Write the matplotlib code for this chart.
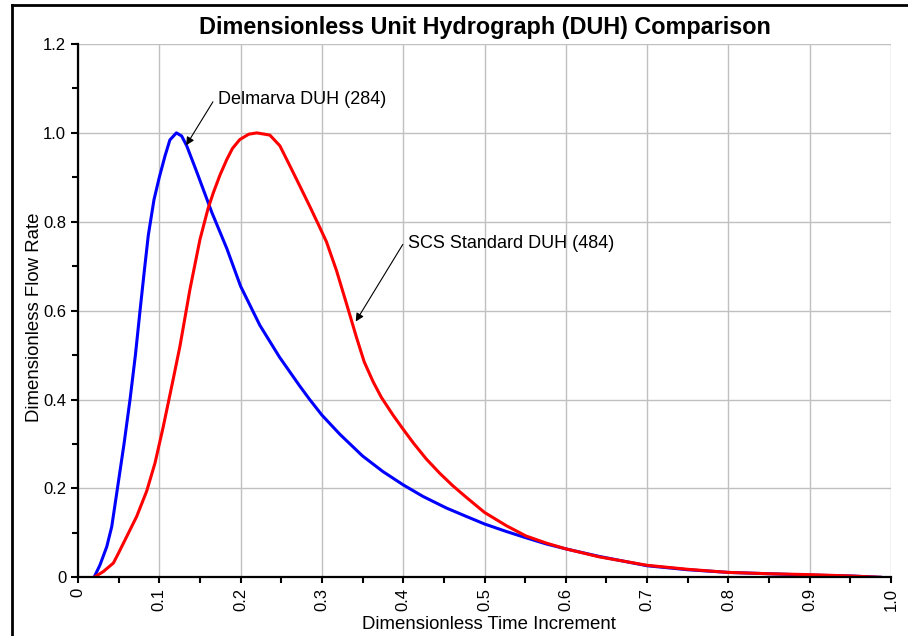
import matplotlib
matplotlib.use('Agg')
import matplotlib.pyplot as plt
from matplotlib.lines import Line2D
from matplotlib.ticker import MultipleLocator, FuncFormatter

plt.rcParams['font.family'] = ['Liberation Sans', 'DejaVu Sans']

# ---- Delmarva DUH (284) ----
delmarva_t = [0.0198, 0.0271, 0.0354, 0.0415, 0.0485, 0.0566, 0.064, 0.0706, 0.0763, 0.0816,
              0.0865, 0.0935, 0.1, 0.107, 0.113, 0.121, 0.1275, 0.1337, 0.1459, 0.1644,
              0.183, 0.2, 0.2237, 0.248, 0.2729, 0.285, 0.3, 0.322, 0.35, 0.375,
              0.4, 0.4243, 0.453, 0.4776, 0.5, 0.527, 0.551, 0.576, 0.6, 0.641,
              0.7, 0.75, 0.8, 0.85, 0.9, 0.95, 0.987]
delmarva_q = [0.0, 0.028, 0.069, 0.114, 0.2, 0.3, 0.4, 0.5, 0.6, 0.69,
              0.77, 0.85, 0.90, 0.948, 0.984, 1.0, 0.993, 0.971, 0.913, 0.822,
              0.74, 0.655, 0.567, 0.495, 0.43, 0.4, 0.365, 0.322, 0.273, 0.238,
              0.208, 0.182, 0.156, 0.137, 0.12, 0.103, 0.089, 0.075, 0.064, 0.047,
              0.026, 0.017, 0.011, 0.008, 0.005, 0.003, 0.0]

# ---- SCS Standard DUH (484) ----
scs_t = [0.0198, 0.0312, 0.0435, 0.0497, 0.0599, 0.0722, 0.0845, 0.0947, 0.105, 0.117,
         0.1254, 0.1377, 0.150, 0.16, 0.1664, 0.1746, 0.183, 0.19, 0.199, 0.21,
         0.22, 0.236, 0.2483, 0.2606, 0.273, 0.285, 0.2954, 0.3056, 0.318, 0.332,
         0.3425, 0.352, 0.363, 0.3731, 0.3875, 0.4, 0.4126, 0.4285, 0.445, 0.461,
         0.4776, 0.5, 0.527, 0.551, 0.576, 0.6, 0.641, 0.7, 0.75, 0.8,
         0.85, 0.9, 0.95, 0.987]
scs_q = [0.0, 0.013, 0.032, 0.054, 0.0916, 0.137, 0.194, 0.257, 0.34, 0.445,
         0.52, 0.648, 0.76, 0.83, 0.865, 0.905, 0.94, 0.965, 0.985, 0.997,
         1.0, 0.995, 0.971, 0.926, 0.88, 0.835, 0.795, 0.755, 0.69, 0.605,
         0.54, 0.485, 0.44, 0.405, 0.365, 0.333, 0.302, 0.266, 0.234, 0.206,
         0.18, 0.146, 0.116, 0.093, 0.077, 0.064, 0.046, 0.027, 0.018, 0.011,
         0.008, 0.006, 0.003, 0.0]

W, H = 908, 636
fig = plt.figure(figsize=(W / 100, H / 100), dpi=100)
ax = fig.add_axes([78 / W, (H - 577.3) / H, (891 - 78) / W, (577.3 - 44) / H])

ax.plot(delmarva_t, delmarva_q, color='#0000ff', lw=2.2, zorder=3)
ax.plot(scs_t, scs_q, color='#ff0000', lw=2.2, zorder=4)

ax.set_xlim(0, 1.0)
ax.set_ylim(0, 1.2)
ax.xaxis.set_major_locator(MultipleLocator(0.1))
ax.xaxis.set_minor_locator(MultipleLocator(0.05))
ax.yaxis.set_major_locator(MultipleLocator(0.2))
ax.yaxis.set_minor_locator(MultipleLocator(0.1))
fmt = FuncFormatter(lambda v, p: '0' if abs(v) < 1e-9 else '%.1f' % v)
ax.xaxis.set_major_formatter(fmt)
ax.yaxis.set_major_formatter(fmt)
ax.tick_params(axis='x', which='major', labelrotation=90, labelsize=12, length=4, width=1.5, direction='out')
ax.tick_params(axis='y', which='major', labelsize=12, length=5, width=1.5, direction='out')
ax.tick_params(which='minor', length=4, width=1.5, direction='out')

ax.grid(True, which='major', color='#c0c0c0', lw=1.0, zorder=0)
for s in ['top', 'right']:
    ax.spines[s].set_visible(False)
for s in ['left', 'bottom']:
    ax.spines[s].set_linewidth(1.6)
    ax.spines[s].set_zorder(5)

ax.set_title('Dimensionless Unit Hydrograph (DUH) Comparison', fontsize=16.8, fontweight='bold', pad=7)
ax.set_xlabel('Dimensionless Time Increment', fontsize=13.4)
ax.set_ylabel('Dimensionless Flow Rate', fontsize=13.4)
ax.xaxis.label.set_va('center')
ax.yaxis.label.set_va('center')
ax.xaxis.set_label_coords(0.506, -0.0894)
ax.yaxis.set_label_coords(-0.0529, 0.487)

arrow = dict(arrowstyle='-|>', color='black', lw=0.8, mutation_scale=12, shrinkA=0, shrinkB=0)
ax.annotate('', xy=(0.133, 0.972), xytext=(0.166, 1.07), arrowprops=arrow)
ax.text(0.172, 1.074, 'Delmarva DUH (284)', fontsize=13, va='center', ha='left')
ax.annotate('', xy=(0.3416, 0.5755), xytext=(0.3995, 0.749), arrowprops=arrow)
ax.text(0.406, 0.751, 'SCS Standard DUH (484)', fontsize=13, va='center', ha='left')

# outer frame (left and top edges visible)
fig.add_artist(Line2D([11.5 / W, 11.5 / W], [0, 1 - 5 / H], color='black', lw=2))
fig.add_artist(Line2D([11.5 / W, 1], [1 - 5 / H, 1 - 5 / H], color='black', lw=2))

fig.savefig('out.png', dpi=100)
